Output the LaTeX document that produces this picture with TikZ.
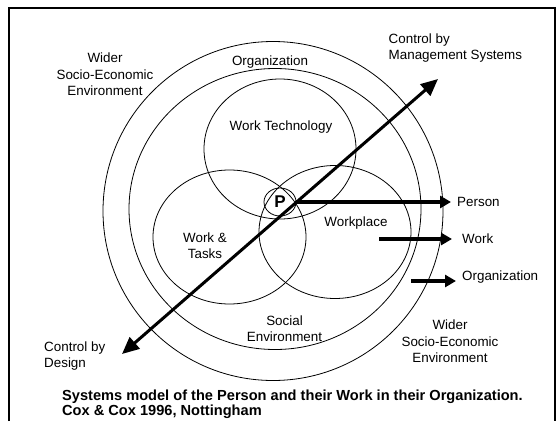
\documentclass[tikz,border=0pt]{standalone}
\usepackage{fontspec}
\setmainfont{Liberation Sans}
\usetikzlibrary{arrows.meta,shapes.geometric}

\begin{document}
\begin{tikzpicture}[x=1pt,y=-1pt,
  ring/.style={draw,ellipse,inner sep=0pt,line width=0.8pt},
  lbl/.style={align=center,inner sep=0pt,font=\fontsize{13.4}{16.4}\selectfont},
  fat/.style={line width=4pt,-{Triangle[length=11pt,width=12pt]}}]
  \useasboundingbox (0,0) rectangle (560,421);
  \draw[line width=2pt] (9,421) -- (9,8) -- (555,8) -- (555,421);
  % rings of the model
  \node[ring,minimum width=340pt,minimum height=339pt] (wider) at (273,211) {};
  \node[ring,minimum width=292pt,minimum height=281pt] (org) at (275,209) {};
  \node[ring,minimum width=152pt,minimum height=140pt] (tech) at (280,149) {};
  \node[ring,minimum width=153pt,minimum height=134pt] (tasks) at (229.5,237) {};
  \node[ring,minimum width=152pt,minimum height=133pt] (place) at (335,232) {};
  \node[ring,minimum width=32pt,minimum height=28pt,font=\fontsize{17}{17}\bfseries] (p) at (280,202) {P};
  % labels
  \node[lbl] (widerA) at (105,74.5) {Wider\\Socio-Economic\\Environment};
  \node[lbl] (orgl) at (270,62.5) {Organization};
  \node[lbl] (techl) at (281,127.5) {Work Technology};
  \node[lbl] (tasksl) at (205,245.5) {Work \&\\Tasks};
  \node[lbl] (placel) at (356,223) {Workplace};
  \node[lbl] (social) at (284.5,329) {Social\\Environment};
  \node[lbl] (widerB) at (450,341.5) {Wider\\Socio-Economic\\Environment};
  \node[lbl,align=left,anchor=west] (mgtl) at (388.5,48) {Control by\\Management Systems};
  \node[lbl,align=left,anchor=west] (dsnl) at (44,356) {Control by\\Design};
  \node[lbl,anchor=west] (person) at (457,202) {Person};
  \node[lbl,anchor=west] (work) at (462,239) {Work};
  \node[lbl,anchor=west] (orgr) at (462,277) {Organization};
  \node[align=left,anchor=west,inner sep=0pt,font=\fontsize{14.6}{15.2}\bfseries] (caption) at (62,404.5)
    {Systems model of the Person and their Work in their Organization.\\Cox \& Cox 1996, Nottingham};
  % arrows
  \coordinate (dsn) at (122,354);
  \coordinate (mgt) at (438,79);
  \draw[line width=3pt,{Triangle[length=17pt,width=15pt]}-{Triangle[length=17pt,width=15pt]}] (dsn) -- (mgt);
  \coordinate (workA) at (379,239);
  \coordinate (orgA) at (411,281);
  \draw[fat] (p.east) -- (person.west -| 451,0);
  \draw[fat] (workA) -- (452,239);
  \draw[fat] (orgA) -- (456,281);
\end{tikzpicture}
\end{document}
